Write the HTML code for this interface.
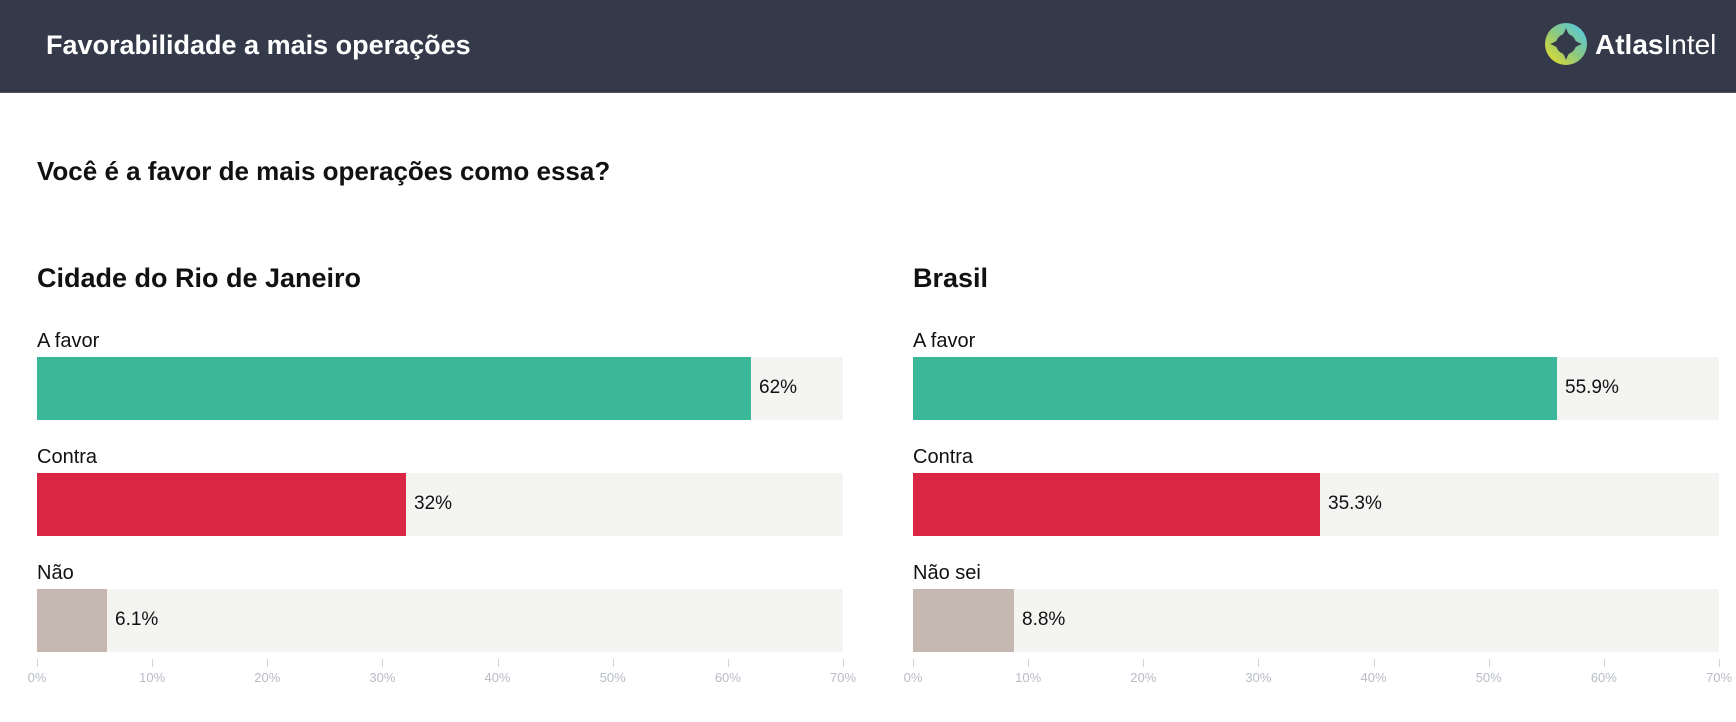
<!DOCTYPE html><html><head><meta charset="utf-8"><style>
body{margin:0;width:1736px;height:722px;background:#fff;font-family:"Liberation Sans",sans-serif;position:relative;overflow:hidden;color:#111}
.a{position:absolute;white-space:nowrap}
.hdr{position:absolute;left:0;top:0;width:1736px;height:92px;background:#343a4a;border-bottom:1px solid #555}
.lbl{font-size:20px}
.trk{position:absolute;height:63px;background:#f4f4f2}
.bar{position:absolute;left:0;top:0;height:63px}
.val{position:absolute;top:20px;font-size:19px}
.tk{position:absolute;font-size:13px;color:#b8bcc6;transform:translateX(-50%);top:670px}
.tm{position:absolute;width:1px;height:8px;background:#d0d3d9;top:659px}
</style></head><body>
<div class="hdr"></div>
<div class="a" style="left:46px;top:30px;font-size:27px;font-weight:bold;color:#fff">Favorabilidade a mais operações</div>
<svg class="a" style="left:1544px;top:22px" width="44" height="44" viewBox="0 0 44 44"><defs><linearGradient id="g" x1="0" y1="1" x2="1" y2="0"><stop offset="0" stop-color="#f0e020"/><stop offset="0.5" stop-color="#8cc880"/><stop offset="1" stop-color="#4cc8f0"/></linearGradient></defs><circle cx="22" cy="22" r="21" fill="url(#g)"/><path d="M22 6 Q26 18 38 22 Q26 26 22 38 Q18 26 6 22 Q18 18 22 6Z" fill="#343a4a"/><circle cx="22" cy="22" r="10" fill="#343a4a"/></svg>
<div class="a" style="left:1595px;top:29px;font-size:28px;color:#fff"><span style="font-weight:600">Atlas</span>Intel</div>
<div class="a" style="left:37px;top:156px;font-size:26px;font-weight:bold">Você é a favor de mais operações como essa?</div>
<div class="a" style="left:37px;top:263px;font-size:27px;font-weight:bold">Cidade do Rio de Janeiro</div>
<div class="a" style="left:913px;top:263px;font-size:27px;font-weight:bold">Brasil</div>

<div class="a lbl" style="left:37px;top:330px">A favor</div>
<div class="a lbl" style="left:37px;top:446px">Contra</div>
<div class="a lbl" style="left:37px;top:562px">Não</div>
<div class="a lbl" style="left:913px;top:330px">A favor</div>
<div class="a lbl" style="left:913px;top:446px">Contra</div>
<div class="a lbl" style="left:913px;top:562px">Não sei</div>

<div class="trk" style="left:37px;top:357px;width:806px"><div class="bar" style="width:714px;background:#3bb89a"></div><div class="val" style="left:722px">62%</div></div>
<div class="trk" style="left:37px;top:473px;width:806px"><div class="bar" style="width:369px;background:#d92645"></div><div class="val" style="left:377px">32%</div></div>
<div class="trk" style="left:37px;top:589px;width:806px"><div class="bar" style="width:70px;background:#c5b8b0"></div><div class="val" style="left:78px">6.1%</div></div>

<div class="trk" style="left:913px;top:357px;width:806px"><div class="bar" style="width:644px;background:#3bb89a"></div><div class="val" style="left:652px">55.9%</div></div>
<div class="trk" style="left:913px;top:473px;width:806px"><div class="bar" style="width:407px;background:#d92645"></div><div class="val" style="left:415px">35.3%</div></div>
<div class="trk" style="left:913px;top:589px;width:806px"><div class="bar" style="width:101px;background:#c5b8b0"></div><div class="val" style="left:109px">8.8%</div></div>

<div id="ax"></div>
<script>
var h="";[37,913].forEach(function(x0){for(var i=0;i<=7;i++){var x=x0+i*806/7;h+='<div class="tm" style="left:'+x+'px"></div><div class="tk" style="left:'+x+'px">'+(i*10)+'%</div>';}});
document.getElementById("ax").innerHTML=h;
</script>
</body></html>
